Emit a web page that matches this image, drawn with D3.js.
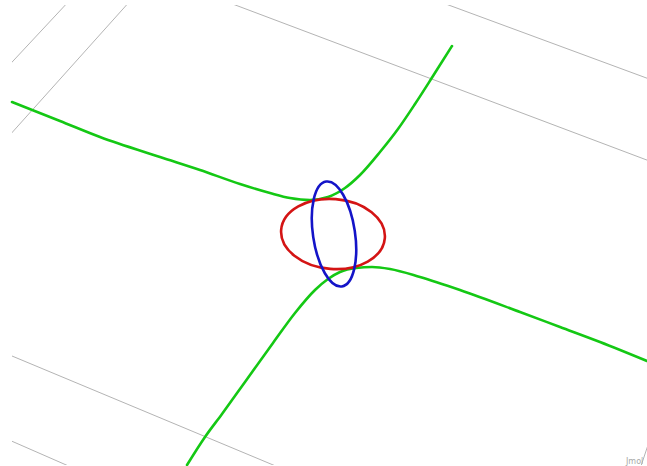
<!DOCTYPE html>
<html>
<head>
<meta charset="utf-8">
<script src="https://cdn.jsdelivr.net/npm/d3@7"></script>
<style>
    body { margin: 0; background: #ffffff; }
    svg { display: block; }
    .grid { stroke: #b4b4b4; stroke-width: 1; fill: none; }
    .curve { fill: none; stroke-width: 2.6; stroke-linejoin: round; stroke-linecap: round; }
</style>
</head>
<body>
<div id="chart"></div>
<script>
// values, in picture units (x right, y down)
var upperBranch = [
    [12, 102], [60, 121], [100, 137], [160, 157], [200, 170], [240, 184],
    [270, 193], [290, 198], [310, 200], [328, 197], [345, 188], [360, 175],
    [380, 152], [398, 129], [415, 104], [433, 76], [452, 46]
];
var lowerBranch = [
    [187, 465], [205, 437], [222, 414], [245, 382], [273, 343], [295, 313],
    [315, 290], [328, 279], [340, 272], [356, 268], [372, 267], [390, 269],
    [420, 277], [460, 290], [520, 312], [560, 327], [600, 342], [647, 361]
];

// ellipses: centre, semi axes, tilt in degrees
var ellipses = [
    { name: 'red',  cx: 333, cy: 234, rx: 52, ry: 35, tilt: 4.5, color: '#d41414' },
    { name: 'blue', cx: 334, cy: 234, rx: 21, ry: 53, tilt: -8.5, color: '#1414c8' }
];

// grid segments of the bounding box, start and end point
var gridLines = [
    [[0, 75], [70, 0]],
    [[0, 146], [131, 0]],
    [[222, 0], [660, 165]],
    [[435, 0], [660, 83]],
    [[0, 351], [290, 472]],
    [[0, 436], [80, 471]],
    [[641, 466], [649, 442]]
];

var width = 647,
    height = 466;

var x = d3.scaleLinear().domain([0, 647]).range([0, width]);
var y = d3.scaleLinear().domain([0, 466]).range([0, height]);

var svg = d3.select('#chart').append('svg')
    .attr('width', width)
    .attr('height', height);

svg.append('clipPath').attr('id', 'frame')
    .append('rect')
    .attr('x', x(12)).attr('y', y(5))
    .attr('width', x(647) - x(12)).attr('height', y(465) - y(5));

// grey box edges
svg.append('g')
    .attr('clip-path', 'url(#frame)')
    .selectAll('line')
    .data(gridLines)
    .enter().append('line')
    .attr('class', 'grid')
    .attr('x1', function(d) { return x(d[0][0]); })
    .attr('y1', function(d) { return y(d[0][1]); })
    .attr('x2', function(d) { return x(d[1][0]); })
    .attr('y2', function(d) { return y(d[1][1]); });

var line = d3.line()
    .x(function(d) { return x(d[0]); })
    .y(function(d) { return y(d[1]); })
    .curve(d3.curveMonotoneX);

// hyperbola branches
svg.selectAll('path.branch')
    .data([upperBranch, lowerBranch])
    .enter().append('path')
    .attr('class', 'curve branch')
    .attr('stroke', '#14c814')
    .attr('d', line);

// the two ellipses
svg.selectAll('ellipse')
    .data(ellipses)
    .enter().append('ellipse')
    .attr('class', 'curve')
    .attr('stroke', function(d) { return d.color; })
    .attr('rx', function(d) { return x(d.rx) - x(0); })
    .attr('ry', function(d) { return y(d.ry) - y(0); })
    .attr('transform', function(d) {
        return 'translate(' + x(d.cx) + ',' + y(d.cy) + ') rotate(' + d.tilt + ')';
    });

// logo in the corner
svg.append('text')
    .attr('x', x(626))
    .attr('y', y(464))
    .attr('font-family', 'DejaVu Sans, sans-serif')
    .attr('font-size', 8)
    .attr('fill', '#a8a8a8')
    .text('Jmol');
</script>
</body>
</html>
